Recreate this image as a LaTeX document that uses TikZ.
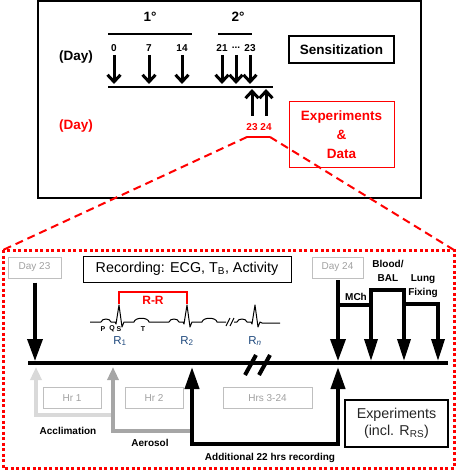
\documentclass[tikz,border=0pt]{standalone}
\usepackage{fontspec}
\setmainfont{Liberation Sans}
\usetikzlibrary{arrows.meta}
\definecolor{ecgblue}{RGB}{31,73,125}
\definecolor{lgray}{RGB}{217,217,217}
\definecolor{mgray}{RGB}{166,166,166}
\definecolor{boxgray}{RGB}{191,191,191}
\definecolor{txtgray}{RGB}{160,160,160}
\newcommand\ecgbeat[1]{-- (#1-18,322) .. controls (#1-17,318) and (#1-9,318) .. (#1-8,322) -- (#1-4,322) -- (#1-3,324) -- (#1,305) -- (#1+3,327) -- (#1+5,322) -- (#1+15,322) .. controls (#1+16,317) and (#1+29,317) .. (#1+30,322)}
\begin{document}
\begin{tikzpicture}[x=1pt,y=-1pt,
  big/.style={font=\fontsize{13.5}{19}\selectfont\bfseries, inner sep=1pt},
  num/.style={font=\fontsize{10}{12}\selectfont\bfseries, inner sep=1pt},
  lab/.style={font=\fontsize{10}{14}\selectfont\bfseries, inner sep=1pt, align=center},
  reg/.style={font=\fontsize{14.3}{17}\selectfont, inner sep=1pt, align=center},
  graybox/.style={draw=boxgray, line width=1pt, text=txtgray, font=\fontsize{10}{12}\selectfont, minimum height=21pt, inner sep=0pt},
  downarr/.style={line width=3pt, -{Straight Barb[length=7pt,width=13pt]}},
  bigarr/.style={line width=3.5pt, -{Triangle[length=22pt,width=14pt]}},
  garr/.style={line width=4pt, -{Triangle[length=13pt,width=11pt]}},
  ecglab/.style={font=\fontsize{7}{8}\selectfont\bfseries, inner sep=0pt},
  rlab/.style={font=\fontsize{11.5}{13}\selectfont, text=ecgblue, inner sep=0pt},
]
\useasboundingbox (0,0) rectangle (456,470);

% ---------- top panel ----------
\draw[line width=2pt] (38,1) rectangle (421,198);
\node[big] (p1) at (150,17) {1°};
\node[big] (p2) at (238,17) {2°};
\coordinate (b1a) at (108,34); \coordinate (b1b) at (192,34);
\coordinate (b2a) at (218,34); \coordinate (b2b) at (252,34);
\draw[line width=2.5pt] (b1a) -- (b1b);
\draw[line width=2.5pt] (b2a) -- (b2b);

\node[big] (dayk) at (76,57) {(Day)};
\node[big, text=red] (dayr) at (76,126) {(Day)};

\node[num] (n0) at (114,48) {0};
\node[num] (n7) at (149,48) {7};
\node[num] (n14) at (182,48) {14};
\node[num] (n21) at (222,48) {21};
\node[num] (ndots) at (236,48) {...};
\node[num] (n23) at (250,48) {23};

\coordinate (tl1) at (108,87); \coordinate (tl2) at (273,87);
\coordinate (tip) at (0,84);
\draw[line width=2.5pt] (tl1) -- (tl2);
\foreach \n in {n0,n7,n14,n21,n23}
  \draw[downarr] (\n.south |- 0,55) -- (\n.south |- tip);
\draw[downarr] (ndots.south |- 0,55) -- (ndots.south |- tip);

\node[num, text=red] (r23) at (252,127) {23};
\node[num, text=red] (r24) at (266,127) {24};
\coordinate (utip) at (0,89);
\draw[downarr] (r23.north |- 0,116) -- (r23.north |- utip);
\draw[downarr] (r24.north |- 0,116) -- (r24.north |- utip);

\coordinate (rb1) at (247,137); \coordinate (rb2) at (270,137);
\draw[red, line width=2.5pt] (rb1) -- (rb2);

\node[big, draw, line width=1.2pt, minimum width=105pt, minimum height=27pt] (sens) at (341.5,49.5) {Sensitization};
\node[big, draw=red, text=red, line width=1pt, minimum width=105pt, minimum height=66pt, align=center] (exd) at (341.5,135) {Experiments\\\&\\Data};

% ---------- zoom frame ----------
\coordinate (zl) at (3,250); \coordinate (zr) at (454,250);
\draw[red, line width=2pt, dash pattern=on 8pt off 5pt] (rb1) -- (zl);
\draw[red, line width=2pt, dash pattern=on 8pt off 5pt] (rb2) -- (zr);
\draw[red, line width=3pt, dash pattern=on 3pt off 2.5pt] (zl) rectangle (454,468);

% ---------- bottom panel ----------
\node[graybox, minimum width=53pt] (d23) at (34.5,267.5) {Day 23};
\node[graybox, minimum width=51pt] (d24) at (337.5,267.5) {Day 24};
\node[reg, draw, line width=1pt, minimum width=208pt, minimum height=26pt] (rec) at (187,269) {Recording: ECG, T\textsubscript{B}, Activity};

\coordinate (t1) at (28,363); \coordinate (t2) at (448,363);
\draw[line width=4.5pt] (t1) -- (t2);
\coordinate (tb) at (0,361);
\draw[bigarr, -{Triangle[length=22pt,width=15pt]}] ([xshift=0.5pt]d23.south) ++(0,4) -- ([xshift=0.5pt]d23.south |- tb);
\coordinate (d24top) at (338,280);
\draw[bigarr, -{Triangle[length=22pt,width=15pt]}] (d24top) -- (d24top |- tb);

% branches
\coordinate (m1) at (338,305);
\coordinate (m2) at (371,361);
\coordinate (m3) at (371,305);
\coordinate (m4) at (404,290);
\coordinate (m5) at (404,304);
\coordinate (m6) at (438,361);
\draw[bigarr, -{Triangle[length=22pt,width=13pt]}, line join=miter] (m1) -| (m2);
\draw[bigarr, -{Triangle[length=22pt,width=13pt]}, line join=miter] (m3) |- (m4) -- (m4 |- tb);
\draw[bigarr, -{Triangle[length=22pt,width=13pt]}, line join=miter] (m5) -| (m6);
\node[lab] (mch) at (356,297) {MCh};
\node[lab] (blood) at (388,270.5) {Blood/\\BAL};
\node[lab] (lung) at (423,286) {Lung\\Fixing};

% ECG
\draw[line width=1pt, line join=round] (90,322) \ecgbeat{119} \ecgbeat{187} -- (226,322);
\draw[line width=1pt] (226,326) -- (230,318) (230,326) -- (234,318);
\draw[line width=1pt, line join=round] (234,322) -- (237,322) .. controls (238,318) and (246,318) .. (247,322) -- (251,322) -- (252,324) -- (255,305) -- (258,327) -- (260,322) -- (262,323) -- (280,323);
\node[ecglab] (lp) at (103,329) {P};
\node[ecglab] (lq) at (112,329) {Q};
\node[ecglab] (ls) at (119,329) {S};
\node[ecglab] (lt) at (143,329) {T};
\node[rlab] (r1) at (120,341) {R\textsubscript{1}};
\node[rlab] (r2) at (187,341) {R\textsubscript{2}};
\node[rlab] (rn) at (255,341) {R\textsubscript{\textit{n}}};
\coordinate (pk1) at (119,304); \coordinate (pk2) at (187,304);
\draw[red, line width=1.5pt] (pk1) |- (153,292) -| (pk2);
\node[font=\fontsize{12}{14}\selectfont\bfseries, text=red] (rr) at (153,300) {R-R};

% break marks
\draw[line width=4pt] (245,375) -- (256,355) (259,375) -- (270,355);

% lower arrows
\coordinate (a1) at (36,367); \coordinate (a1c) at (113,415);
\coordinate (a2) at (113,367); \coordinate (a2c) at (192,431);
\coordinate (a3) at (192,367); \coordinate (a3c) at (338,444); \coordinate (a4) at (338,367);
\draw[garr, lgray, line join=miter] (a1c) -| (a1);
\draw[garr, mgray, line join=miter] (a2c) -| (a2);
\draw[line width=4pt, line join=miter, {Triangle[length=22pt,width=14pt]}-{Triangle[length=22pt,width=14pt]}] (a3) |- (a3c) -- (a4);

\node[graybox, minimum width=58pt] (h1) at (72,398) {Hr 1};
\node[graybox, minimum width=58pt] (h2) at (154,398) {Hr 2};
\node[graybox, minimum width=89pt] (h3) at (267.5,398) {Hrs 3-24};
\node[reg, draw, line width=1.2pt, minimum width=103pt, minimum height=47pt, text=black!85] (exp) at (396.5,423.5) {Experiments\\(incl. R\textsubscript{RS})};

\node[lab] (accl) at (68,431) {Acclimation};
\node[lab] (aero) at (150,443) {Aerosol};
\node[lab] (addl) at (270,458) {Additional 22 hrs recording};
\end{tikzpicture}
\end{document}
